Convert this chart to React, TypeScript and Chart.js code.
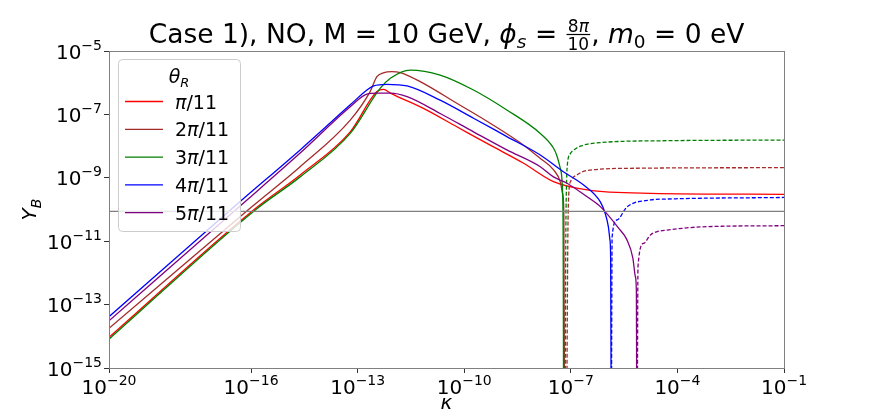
import React, { useEffect, useRef } from "react";
import { Chart, registerables } from "chart.js";
Chart.register(...registerables);

const W = 872;
const H = 414;
const FF = '"DejaVu Sans", sans-serif';

// ---------- axes ----------
const xMin = 1e-20;
const xMax = 1e-1;
const yMin = 1e-15;
const yMax = 1e-5;
const xTicks = [1e-20, 1e-16, 1e-13, 1e-10, 1e-7, 1e-4, 1e-1];
const xTickExps = ["−20", "−16", "−13", "−10", "−7", "−4", "−1"];
const yTicks = [1e-15, 1e-13, 1e-11, 1e-9, 1e-7, 1e-5];
const yTickExps = ["−15", "−13", "−11", "−9", "−7", "−5"];

// observed value (horizontal line)
const observedYB = 8.7e-11;

// ---------- series (kappa, |Y_B|) ----------
const legendLabels = ["π/11", "2π/11", "3π/11", "4π/11", "5π/11"];
const colors = ["#ff0000", "#a52a2a", "#008000", "#0000ff", "#800080"];

// θR = π/11 (positive everywhere)
const redK = [1e-20, 1.15e-16, 2.4e-15, 6.17e-14, 3.47e-13, 5.37e-13, 8.32e-13, 7.08e-12, 6.17e-11, 5.37e-10, 4.68e-9, 3.24e-8, 2.88e-7, 1.74e-5, 0.1];
const redY = [9.33e-15, 9.55e-11, 1.23e-9, 2.82e-8, 5.25e-7, 6.17e-7, 4.68e-7, 1.55e-7, 4.07e-8, 1.07e-8, 2.88e-9, 7.59e-10, 4.17e-10, 3.24e-10, 3.02e-10];

// θR = 2π/11
const brownK = [1e-20, 9.33e-17, 2.4e-15, 6.17e-14, 2.24e-13, 3.47e-13, 5.25e-13, 9.12e-13, 1.58e-12, 7.08e-12, 6.17e-11, 5.37e-10, 4.68e-9, 1.38e-8, 3.27e-8, 5.01e-8, 5.96e-8, 6.35e-8, 6.61e-8];
const brownY = [1.78e-14, 1.1e-10, 2.24e-9, 6.61e-8, 5.25e-7, 1.55e-6, 2.04e-6, 2.24e-6, 2.09e-6, 9.55e-7, 2.24e-7, 5.25e-8, 1.07e-8, 4.07e-9, 1.78e-9, 7.59e-10, 2.88e-10, 6.76e-11, 1e-16];
const brownNegK = [7.71e-8, 8.22e-8, 8.71e-8, 1.0e-7, 1.48e-7, 2.88e-7, 5.89e-6, 0.1];
const brownNegY = [1e-16, 1.1e-11, 2.88e-10, 7.94e-10, 1.23e-9, 1.7e-9, 2.0e-9, 2.09e-9];

// θR = 3π/11
const greenK = [1e-20, 1.29e-16, 2.4e-15, 6.17e-14, 4.27e-13, 8.32e-13, 3.02e-12, 2.09e-11, 1.82e-10, 1.58e-9, 1.38e-8, 3.24e-8, 4.07e-8, 5.01e-8, 5.86e-8, 6.08e-8, 6.24e-8];
const greenY = [8.13e-15, 9.55e-11, 1.07e-9, 2.51e-8, 6.61e-7, 1.38e-6, 2.51e-6, 1.74e-6, 5.89e-7, 1.38e-7, 2.51e-8, 8.7e-9, 4.9e-9, 2.04e-9, 3.31e-10, 1.1e-11, 1e-16];
const greenNegK = [6.93e-8, 7.21e-8, 7.55e-8, 7.96e-8, 9.77e-8, 1.34e-7, 1.86e-7, 6.76e-7, 5.13e-5, 0.1];
const greenNegY = [1e-16, 1.1e-11, 5.89e-10, 2.51e-9, 5.89e-9, 8.13e-9, 1.0e-8, 1.29e-8, 1.48e-8, 1.55e-8];

// θR = 4π/11
const blueK = [1e-20, 4.9e-17, 2.4e-15, 6.17e-14, 1.82e-13, 2.82e-13, 6.61e-13, 2.45e-12, 2.09e-11, 1.82e-10, 1.58e-9, 1.38e-8, 6.17e-8, 2.29e-7, 6.76e-7, 9.38e-7, 1.14e-6, 1.26e-6, 1.32e-6, 1.36e-6];
const blueY = [4.17e-14, 1.78e-10, 7.59e-9, 2.0e-7, 5.89e-7, 7.94e-7, 8.91e-7, 7.94e-7, 2.82e-7, 7.59e-8, 2.0e-8, 5.25e-9, 1.55e-9, 5.89e-10, 1.74e-10, 7.24e-11, 2.82e-11, 1.1e-11, 2.95e-12, 1e-16];
const blueNegK = [1.39e-6, 1.45e-6, 2.0e-6, 3.8e-6, 1.74e-5, 5.13e-5, 0.1];
const blueNegY = [1e-16, 1.35e-11, 4.68e-11, 1.2e-10, 2.0e-10, 2.14e-10, 2.4e-10];

// θR = 5π/11
const purpleK = [1e-20, 4.9e-17, 2.4e-15, 6.17e-14, 1.82e-13, 3.47e-13, 8.32e-13, 2.45e-12, 2.09e-11, 1.82e-10, 1.58e-9, 1.38e-8, 3.24e-8, 7.82e-8, 2.88e-7, 6.76e-7, 2.18e-6, 3.8e-6, 5.57e-6, 6.56e-6, 7.0e-6, 7.14e-6];
const purpleY = [3.09e-14, 1.29e-10, 6.03e-9, 1.74e-7, 4.37e-7, 4.68e-7, 4.68e-7, 3.63e-7, 1.07e-7, 2.82e-8, 7.59e-9, 2.24e-9, 1.07e-9, 6.76e-10, 2.51e-10, 1.23e-10, 2.63e-11, 1.1e-11, 2.95e-12, 7.59e-13, 2.34e-13, 1e-16];
const purpleNegK = [7.46e-6, 7.76e-6, 1.12e-5, 1.74e-5, 2.69e-5, 5.13e-5, 4.47e-4, 0.1];
const purpleNegY = [1e-16, 1.58e-12, 8.51e-12, 1.58e-11, 2.0e-11, 2.24e-11, 2.82e-11, 3.09e-11];

const positive: [number[], number[]][] = [
  [redK, redY],
  [brownK, brownY],
  [greenK, greenY],
  [blueK, blueY],
  [purpleK, purpleY],
];
const negative: ([number[], number[]] | null)[] = [
  null,
  [brownNegK, brownNegY],
  [greenNegK, greenNegY],
  [blueNegK, blueNegY],
  [purpleNegK, purpleNegY],
];

type Run = { t: string; font: string; dy?: number };

function runsWidth(ctx: CanvasRenderingContext2D, runs: Run[]) {
  let w = 0;
  for (const r of runs) {
    ctx.font = r.font;
    w += ctx.measureText(r.t).width;
  }
  return w;
}
function drawRuns(ctx: CanvasRenderingContext2D, runs: Run[], x: number, y: number, align: "left" | "center" | "right") {
  const w = runsWidth(ctx, runs);
  let cx = align === "left" ? x : align === "center" ? x - w / 2 : x - w;
  ctx.textAlign = "left";
  ctx.textBaseline = "alphabetic";
  for (const r of runs) {
    ctx.font = r.font;
    ctx.fillText(r.t, cx, y + (r.dy || 0));
    cx += ctx.measureText(r.t).width;
  }
  return cx;
}
function labelRuns(label: string, size: number): Run[] {
  const parts = label.split("π");
  const runs: Run[] = [];
  if (parts[0]) runs.push({ t: parts[0], font: `${size}px ${FF}` });
  runs.push({ t: "π", font: `italic ${size}px ${FF}` });
  runs.push({ t: parts[1], font: `${size}px ${FF}` });
  return runs;
}

const decorPlugin = {
  id: "decor",
  afterDatasetsDraw(chart: any) {
    const ctx: CanvasRenderingContext2D = chart.ctx;
    const { left, right, top, bottom } = chart.chartArea;
    const xs = chart.scales.x;
    const ys = chart.scales.y;
    ctx.save();
    // frame
    ctx.strokeStyle = "#808080";
    ctx.lineWidth = 1;
    ctx.strokeRect(Math.round(left) + 0.5, Math.round(top) + 0.5, Math.round(right - left), Math.round(bottom - top));
    ctx.fillStyle = "#000";
    // tick labels
    const big = 20;
    const sup = 14;
    xTicks.forEach((v, i) => {
      const px = xs.getPixelForValue(v);
      drawRuns(ctx, [
        { t: "10", font: `${big}px ${FF}` },
        { t: xTickExps[i], font: `${sup}px ${FF}`, dy: -9 },
      ], px, bottom + 26, "center");
    });
    yTicks.forEach((v, i) => {
      const py = ys.getPixelForValue(v);
      drawRuns(ctx, [
        { t: "10", font: `${big}px ${FF}` },
        { t: yTickExps[i], font: `${sup}px ${FF}`, dy: -9 },
      ], left - 7, py + 7.5, "right");
    });
    // axis labels
    drawRuns(ctx, [{ t: "κ", font: `italic 20px ${FF}` }], (left + right) / 2, 409, "center");
    ctx.save();
    ctx.translate(36, (top + bottom) / 2);
    ctx.rotate(-Math.PI / 2);
    drawRuns(ctx, [
      { t: "Y", font: `italic 20px ${FF}` },
      { t: "B", font: `italic 14px ${FF}`, dy: 5 },
    ], 0, 0, "center");
    ctx.restore();

    // title
    const T = 26.5;
    const S = 18.5;
    const F = 17;
    const pre: Run[] = [
      { t: "Case 1), NO, M = 10 GeV, ", font: `${T}px ${FF}` },
      { t: "ϕ", font: `italic ${T}px ${FF}` },
      { t: "s", font: `italic ${S}px ${FF}`, dy: 5 },
      { t: " = ", font: `${T}px ${FF}` },
    ];
    const num: Run[] = [
      { t: "8", font: `${F}px ${FF}` },
      { t: "π", font: `italic ${F}px ${FF}` },
    ];
    const den: Run[] = [{ t: "10", font: `${F}px ${FF}` }];
    const post: Run[] = [
      { t: ", ", font: `${T}px ${FF}` },
      { t: "m", font: `italic ${T}px ${FF}` },
      { t: "0", font: `${S}px ${FF}`, dy: 5 },
      { t: " = 0 eV", font: `${T}px ${FF}` },
    ];
    const fw = Math.max(runsWidth(ctx, num), runsWidth(ctx, den)) + 4;
    const total = runsWidth(ctx, pre) + fw + runsWidth(ctx, post);
    const base = 43;
    let cx = (left + right) / 2 - total / 2;
    cx = drawRuns(ctx, pre, cx, base, "left");
    const bar = base - 8.5;
    ctx.fillRect(cx + 1, bar - 0.6, fw - 2, 1.2);
    drawRuns(ctx, num, cx + fw / 2, bar - 3, "center");
    drawRuns(ctx, den, cx + fw / 2, bar + 15, "center");
    cx += fw;
    drawRuns(ctx, post, cx, base, "left");

    // legend
    const lx = 118.5, ly = 59.5, lw = 122, lh = 172;
    ctx.beginPath();
    ctx.roundRect(lx, ly, lw, lh, 4);
    ctx.fillStyle = "rgba(255,255,255,0.8)";
    ctx.fill();
    ctx.strokeStyle = "#cccccc";
    ctx.lineWidth = 1;
    ctx.stroke();
    ctx.fillStyle = "#000";
    drawRuns(ctx, [
      { t: "θ", font: `italic 19px ${FF}` },
      { t: "R", font: `italic 13px ${FF}`, dy: 4 },
    ], 179, 83, "center");
    legendLabels.forEach((lab, i) => {
      const yy = 101.5 + i * 27.8;
      ctx.strokeStyle = colors[i];
      ctx.lineWidth = 1.3;
      ctx.beginPath();
      ctx.moveTo(125, yy);
      ctx.lineTo(163, yy);
      ctx.stroke();
      ctx.fillStyle = "#000";
      drawRuns(ctx, labelRuns(lab, 19), 175, yy + 7, "left");
    });
    ctx.restore();
  },
};

export default function App() {
  const ref = useRef<HTMLCanvasElement | null>(null);
  useEffect(() => {
    document.body.style.margin = "0";
    const canvas = ref.current!;
    const datasets: any[] = [];
    positive.forEach(([k, y], i) => {
      datasets.push({
        label: legendLabels[i],
        data: k.map((kv, j) => ({ x: kv, y: y[j] })),
        borderColor: colors[i],
        borderWidth: 1.3,
        pointRadius: 0,
        fill: false,
        cubicInterpolationMode: "monotone",
      });
      const neg = negative[i];
      if (neg) {
        datasets.push({
          label: legendLabels[i] + " (−)",
          data: neg[0].map((kv, j) => ({ x: kv, y: neg[1][j] })),
          borderColor: colors[i],
          borderWidth: 1.3,
          borderDash: [4, 2],
          pointRadius: 0,
          fill: false,
          cubicInterpolationMode: "monotone",
        });
      }
    });
    datasets.push({
      label: "observed",
      data: [
        { x: xMin, y: observedYB },
        { x: xMax, y: observedYB },
      ],
      borderColor: "#808080",
      borderWidth: 1.2,
      pointRadius: 0,
      fill: false,
    });
    datasets.reverse();

    const chart = new Chart(canvas, {
      type: "line",
      data: { datasets },
      options: {
        responsive: false,
        animation: false,
        devicePixelRatio: 1,
        layout: { padding: { top: 51, right: 88, bottom: 0, left: 0 } },
        plugins: { legend: { display: false }, tooltip: { enabled: false }, title: { display: false } },
        scales: {
          x: {
            type: "logarithmic",
            min: xMin,
            max: xMax,
            afterBuildTicks: (axis: any) => {
              axis.ticks = xTicks.map((v) => ({ value: v }));
            },
            afterFit: (axis: any) => {
              axis.height = 46;
            },
            ticks: { display: false },
            grid: { display: true, drawOnChartArea: false, drawTicks: true, tickLength: 5, color: "#333", lineWidth: 1 },
            border: { display: false },
          },
          y: {
            type: "logarithmic",
            min: yMin,
            max: yMax,
            afterBuildTicks: (axis: any) => {
              axis.ticks = yTicks.map((v) => ({ value: v }));
            },
            afterFit: (axis: any) => {
              axis.width = 109;
            },
            ticks: { display: false },
            grid: { display: true, drawOnChartArea: false, drawTicks: true, tickLength: 5, color: "#333", lineWidth: 1 },
            border: { display: false },
          },
        },
      },
      plugins: [decorPlugin],
    });
    return () => chart.destroy();
  }, []);
  return (
    <div style={{ width: W, height: H, position: "relative", background: "#fff" }}>
      <canvas ref={ref} width={W} height={H} style={{ width: W, height: H, display: "block" }} />
    </div>
  );
}
